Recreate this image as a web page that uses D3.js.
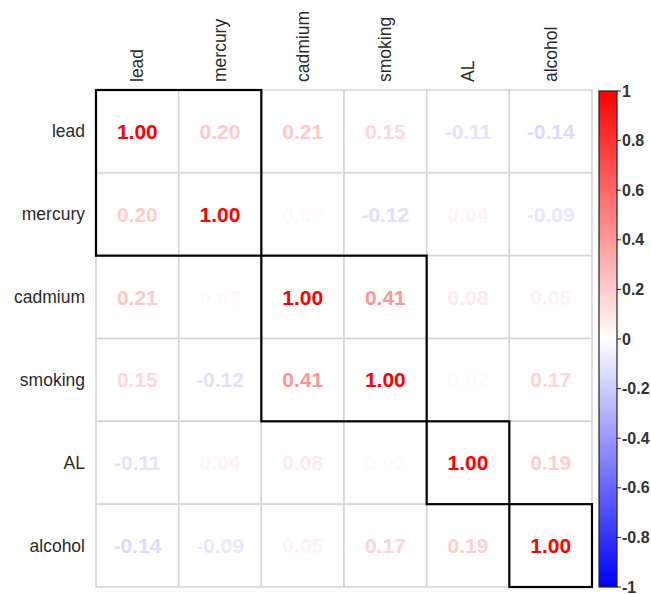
<!DOCTYPE html>
<html>
<head>
<meta charset="utf-8">
<script src="https://cdn.jsdelivr.net/npm/d3@7"></script>
<style>
  body { margin: 0; background: #fff; }
  text { font-family: "Liberation Sans", Arial, sans-serif; }
</style>
</head>
<body>
<script>
// variables, in the order shown
var vars = ["lead", "mercury", "cadmium", "smoking", "AL", "alcohol"];

// correlation rows
var lead    = [1.00, 0.20, 0.21, 0.15, -0.11, -0.14];
var mercury = [0.20, 1.00, 0.02, -0.12, 0.04, -0.09];
var cadmium = [0.21, 0.02, 1.00, 0.41, 0.08, 0.05];
var smoking = [0.15, -0.12, 0.41, 1.00, 0.02, 0.17];
var AL      = [-0.11, 0.04, 0.08, 0.02, 1.00, 0.19];
var alcohol = [-0.14, -0.09, 0.05, 0.17, 0.19, 1.00];
var rows = [lead, mercury, cadmium, smoking, AL, alcohol];

// hclust groups drawn as black boxes
var clusters = [["lead", "mercury"], ["cadmium", "smoking"], ["AL"], ["alcohol"]];

// colour legend ticks
var legendTicks = [1, 0.8, 0.6, 0.4, 0.2, 0, -0.2, -0.4, -0.6, -0.8, -1];

var width = 651, height = 594;

var svg = d3.select("body").append("svg")
    .attr("width", width)
    .attr("height", height);

var x = d3.scaleBand().domain(vars).range([96, 592]);
var y = d3.scaleBand().domain(vars).range([90, 587]);

var color = d3.scaleLinear()
    .domain([-1, 0, 1])
    .range(["#0000FF", "#FFFFFF", "#FF0000"]);

// flatten to cells
var cells = [];
rows.forEach(function(r, i) {
    r.forEach(function(v, j) {
        cells.push({row: vars[i], col: vars[j], value: v});
    });
});

// grid
var grid = svg.append("g");
grid.selectAll("rect")
    .data(cells)
    .enter().append("rect")
    .attr("x", function(d) { return x(d.col); })
    .attr("y", function(d) { return y(d.row); })
    .attr("width", x.bandwidth())
    .attr("height", y.bandwidth())
    .attr("fill", "#fff")
    .attr("stroke", "#d4d4d4")
    .attr("stroke-width", 1.5);

// numbers
svg.append("g").selectAll("text")
    .data(cells)
    .enter().append("text")
    .attr("x", function(d) { return x(d.col) + x.bandwidth() / 2; })
    .attr("y", function(d) { return y(d.row) + y.bandwidth() / 2; })
    .attr("text-anchor", "middle")
    .attr("dominant-baseline", "central")
    .attr("font-size", 21)
    .attr("font-weight", "bold")
    .attr("fill", function(d) { return color(d.value); })
    .text(function(d) { return d.value.toFixed(2); });

// row labels
svg.append("g").selectAll("text")
    .data(vars)
    .enter().append("text")
    .attr("x", 85)
    .attr("y", function(d) { return y(d) + y.bandwidth() / 2; })
    .attr("text-anchor", "end")
    .attr("dominant-baseline", "central")
    .attr("font-size", 17.5)
    .attr("fill", "#2a2a2a")
    .text(function(d) { return d; });

// column labels, rotated
svg.append("g").selectAll("text")
    .data(vars)
    .enter().append("text")
    .attr("transform", function(d) {
        return "translate(" + (x(d) + x.bandwidth() / 2) + ",82) rotate(-90)";
    })
    .attr("text-anchor", "start")
    .attr("dominant-baseline", "central")
    .attr("font-size", 17.5)
    .attr("fill", "#2a2a2a")
    .text(function(d) { return d; });

// cluster boxes
svg.append("g").selectAll("rect")
    .data(clusters)
    .enter().append("rect")
    .attr("x", function(c) { return x(c[0]); })
    .attr("y", function(c) { return y(c[0]); })
    .attr("width", function(c) { return x(c[c.length - 1]) + x.bandwidth() - x(c[0]); })
    .attr("height", function(c) { return y(c[c.length - 1]) + y.bandwidth() - y(c[0]); })
    .attr("fill", "none")
    .attr("stroke", "#000")
    .attr("stroke-width", 2.2);

// colour legend
var ly = d3.scaleLinear().domain([-1, 1]).range([587, 91]);
var defs = svg.append("defs");
var grad = defs.append("linearGradient")
    .attr("id", "cbar")
    .attr("x1", 0).attr("y1", 1).attr("x2", 0).attr("y2", 0);
grad.selectAll("stop")
    .data([-1, 0, 1])
    .enter().append("stop")
    .attr("offset", function(d) { return (d + 1) / 2; })
    .attr("stop-color", function(d) { return color(d); });

svg.append("rect")
    .attr("x", 599)
    .attr("y", ly(1))
    .attr("width", 18)
    .attr("height", ly(-1) - ly(1))
    .attr("fill", "url(#cbar)")
    .attr("stroke", "#222")
    .attr("stroke-width", 1.2);

var lg = svg.append("g");
lg.selectAll("line")
    .data(legendTicks)
    .enter().append("line")
    .attr("x1", 617).attr("x2", 621)
    .attr("y1", function(d) { return ly(d); })
    .attr("y2", function(d) { return ly(d); })
    .attr("stroke", "#222");
lg.selectAll("text")
    .data(legendTicks)
    .enter().append("text")
    .attr("x", 622)
    .attr("y", function(d) { return ly(d); })
    .attr("dominant-baseline", "central")
    .attr("font-size", 16)
    .attr("font-weight", "bold")
    .attr("fill", "#333")
    .text(function(d) { return String(d); });
</script>
</body>
</html>
